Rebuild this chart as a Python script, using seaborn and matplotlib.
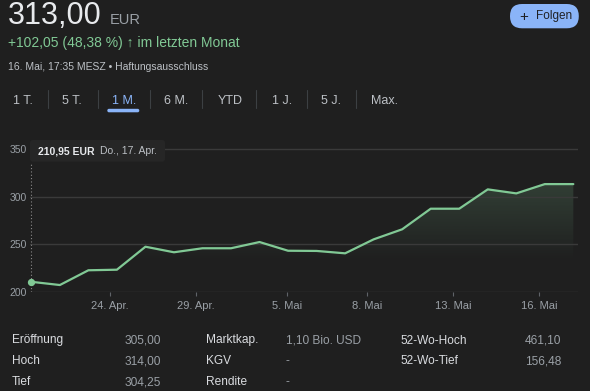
import numpy as np
import pandas as pd
import matplotlib
matplotlib.use("Agg")
import matplotlib.pyplot as plt
import seaborn as sns
from matplotlib.patches import FancyBboxPatch, Polygon
from matplotlib.lines import Line2D
from matplotlib.transforms import IdentityTransform

# ---------------- data ----------------
prices = [210.95, 207.6, 223.0, 223.6, 247.6, 241.8, 246.0, 246.0, 252.5, 243.4,
          243.2, 240.7, 255.3, 265.8, 287.3, 287.3, 307.5, 303.3, 313.0, 313.0]
y_ticks = [200, 250, 300, 350]
x_tick_labels = ["24. Apr.", "29. Apr.", "5. Mai", "8. Mai", "13. Mai", "16. Mai"]
x_tick_pos = [2.76, 5.77, 8.95, 11.78, 14.79, 17.79]
first_date = "Do., 17. Apr."

price_now = "313,00"
currency = "EUR"
change_text = "+102,05 (48,38 %) \u2191 im letzten Monat"
stamp_text = "16. Mai, 17:35 MESZ \u2022 Haftungsausschluss"
tabs = ["1 T.", "5 T.", "1 M.", "6 M.", "YTD", "1 J.", "5 J.", "Max."]
selected_tab = "1 M."

tbl_labels_1 = ["Er\u00f6ffnung", "Hoch", "Tief"]
tbl_values_1 = ["305,00", "314,00", "304,25"]
tbl_labels_2 = ["Marktkap.", "KGV", "Rendite"]
tbl_values_2 = ["1,10 Bio. USD", "-", "-"]
tbl_labels_3 = ["52-Wo-Hoch", "52-Wo-Tief"]
tbl_values_3 = ["461,10", "156,48"]

# ---------------- style ----------------
BG = "#1f1f1f"
GREEN = "#81c995"
GRID = "#3a3a3a"
TICK = "#9aa0a6"
LIGHT = "#e8eaed"
BLUE = "#8ab4f8"

sns.set_theme(style="dark", rc={"axes.facecolor": BG, "figure.facecolor": BG})
plt.rcParams["font.family"] = ["Liberation Sans", "DejaVu Sans"]

W, H = 590, 391
fig = plt.figure(figsize=(W / 100, H / 100), dpi=100)


def fx(px):
    return px / W


def fy(py):
    return 1 - py / H


def txt(x, y, s, **kw):
    kw.setdefault("va", "baseline")
    return fig.text(fx(x), fy(y), s, **kw)


# ---------------- chart ----------------
df = pd.DataFrame({"idx": np.arange(len(prices)), "price": prices})
ax = fig.add_axes([fx(29.9), fy(292.3), 548 / W, 146.5 / H])
ax.set_facecolor(BG)

# gradient fill below the line
y_top = df.price.max()
yv = np.linspace(y_ticks[0], y_top, 256)
alpha = np.clip((yv - 232) / (y_top - 232), 0, 1) * 0.19
rgba = np.zeros((256, 1, 4))
rgba[..., :3] = matplotlib.colors.to_rgb(GREEN)
rgba[:, 0, 3] = alpha
im = ax.imshow(rgba, extent=[df.idx.min(), df.idx.max(), y_ticks[0], y_top],
               origin="lower", aspect="auto", zorder=0.2)
verts = list(zip(df.idx, df.price)) + [(df.idx.max(), y_ticks[0]), (df.idx.min(), y_ticks[0])]
poly = Polygon(verts, closed=True, transform=ax.transData)
im.set_clip_path(poly)

sns.lineplot(data=df, x="idx", y="price", color=GREEN, linewidth=1.6, ax=ax, zorder=3)
ax.scatter(df.idx.iloc[:1], df.price.iloc[:1], s=18, color=GREEN, zorder=4, clip_on=False)

ax.set_xlim(-0.05, 19.16)
ax.set_ylim(200, 353)
ax.axvline(df.idx.iloc[0], ymin=0, ymax=0.89, color="#8a8a8a", lw=0.8,
           linestyle=(0, (1, 2)), zorder=2)

ax.set_yticks(y_ticks)
ax.set_yticklabels([str(v) for v in y_ticks])
ax.set_xticks(x_tick_pos)
ax.set_xticklabels(x_tick_labels)
ax.set_xlabel("")
ax.set_ylabel("")
ax.yaxis.grid(True, color=GRID, lw=1.0)
ax.xaxis.grid(False)
ax.set_axisbelow(True)
for s in ax.spines.values():
    s.set_visible(False)
ax.tick_params(axis="x", bottom=True, length=3, width=0.8, color="#5f6368",
               labelcolor=TICK, labelsize=8, pad=3.2)
ax.tick_params(axis="y", left=False, length=0, labelcolor=TICK, labelsize=7.5, pad=2.5)

# tooltip
tip = FancyBboxPatch((30, H - 161.7), 135, 21.7, boxstyle="round,pad=0,rounding_size=3",
                     transform=IdentityTransform(), fc="#262626", ec="none", zorder=1)
fig.add_artist(tip)
val_txt = f"{prices[0]:.2f}".replace(".", ",") + " EUR"
txt(37.7, 154, val_txt, color=LIGHT, fontsize=7.5, fontweight="bold", zorder=2)
txt(100, 154, first_date, color="#bdc1c6", fontsize=7.5, zorder=2)

# ---------------- header ----------------
txt(8, 24.5, price_now, color=LIGHT, fontsize=22)
txt(109.5, 24.5, currency, color=TICK, fontsize=10.5)
txt(8, 47, change_text, color=GREEN, fontsize=10)
txt(8, 70, stamp_text, color="#bdc1c6", fontsize=7.5)

tab_x = [13.2, 62, 111.8, 164.5, 217.5, 271.7, 321, 370.7]
sep_x = [47.8, 97.9, 149.8, 202.5, 256, 306.7, 355.7]
for t, x in zip(tabs, tab_x):
    txt(x, 103.5, t, color=BLUE if t == selected_tab else "#bdc1c6", fontsize=9)
for x in sep_x:
    fig.add_artist(Line2D([fx(x), fx(x)], [fy(90), fy(108)], color="#3c4043", lw=0.8))
ul = FancyBboxPatch((107.3, H - 112.3), 32, 3.5, boxstyle="round,pad=0,rounding_size=1.7",
                    transform=IdentityTransform(), fc=BLUE, ec="none")
fig.add_artist(ul)

# follow button
btn = FancyBboxPatch((510, H - 28.3), 68.8, 24.3, boxstyle="round,pad=0,rounding_size=12",
                     transform=IdentityTransform(), fc=BLUE, ec="none")
fig.add_artist(btn)
txt(519, 16.5, "+", color="#202124", fontsize=11, va="center")
txt(536, 16.5, "Folgen", color="#202124", fontsize=8.5, va="center")

# ---------------- stats table ----------------
rows_y = [343.5, 364.5, 385.3]
for col_lab, col_val, lx, vx in [(tbl_labels_1, tbl_values_1, 12, 124.2),
                                 (tbl_labels_2, tbl_values_2, 206.2, 286),
                                 (tbl_labels_3, tbl_values_3, 400.8, 525)]:
    for lab, val, y in zip(col_lab, col_val, rows_y):
        txt(lx, y, lab, color="#dadce0", fontsize=8.6)
        txt(vx, y, val, color=TICK, fontsize=8.6)

fig.savefig("out.png", dpi=100, facecolor=BG)
